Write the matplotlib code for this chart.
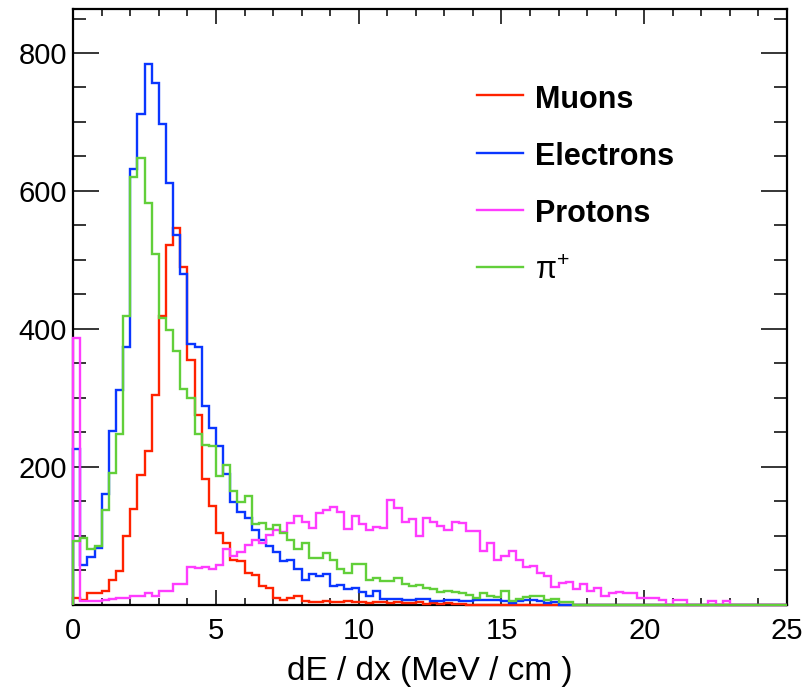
import numpy as np
import matplotlib
matplotlib.use("Agg")
import matplotlib.pyplot as plt
from matplotlib.lines import Line2D
from matplotlib.ticker import MultipleLocator, FixedLocator

plt.rcParams['font.family'] = ['Liberation Sans', 'DejaVu Sans']
plt.rcParams['mathtext.fontset'] = 'custom'
plt.rcParams['mathtext.rm'] = 'Liberation Sans'

# 100 bins of 0.25 MeV/cm from 0 to 25
x_min, x_max, n_bins = 0.0, 25.0, 100

muons = [10, 6, 16, 16, 19, 36, 49, 100, 138, 188,
         223, 304, 418, 521, 546, 489, 354, 275, 182, 143,
         104, 89, 65, 63, 45, 43, 27, 24, 10, 7,
         10, 13, 5, 4, 3, 5, 4, 3, 5, 3,
         3, 2, 4, 3, 2, 3, 2, 2, 3, 1,
         2, 1, 2, 1, 1] + [0] * 45

electrons = [225, 58, 69, 82, 160, 251, 311, 374, 632, 712,
             784, 757, 697, 612, 536, 480, 378, 373, 288, 256,
             230, 190, 149, 134, 125, 108, 93, 85, 76, 63,
             64, 52, 35, 44, 42, 44, 27, 28, 23, 24,
             18, 13, 19, 8, 8, 8, 7, 7, 8, 8,
             5, 5, 7, 7, 5, 5, 6, 6, 6, 6,
             5, 2, 5, 6, 6, 5, 2, 4, 0, 0] + [0] * 30

protons = [387, 5, 5, 5, 6, 8, 10, 10, 12, 12,
           16, 12, 19, 19, 30, 30, 55, 53, 55, 52,
           58, 80, 71, 76, 87, 93, 89, 101, 108, 105,
           118, 129, 119, 111, 133, 137, 142, 134, 109, 129,
           117, 108, 112, 111, 152, 140, 120, 124, 99, 125,
           120, 114, 108, 120, 118, 106, 106, 77, 89, 64,
           71, 78, 65, 54, 56, 45, 42, 26, 31, 33,
           23, 30, 20, 24, 13, 16, 18, 17, 16, 10,
           10, 10, 6, 0, 6, 6, 0, 0, 0, 5,
           0, 5, 0, 0, 0, 0, 0, 0, 0, 0]

pions = [92, 96, 80, 85, 137, 191, 247, 419, 620, 648,
         583, 509, 415, 398, 368, 313, 299, 248, 232, 230,
         186, 202, 165, 149, 157, 117, 118, 110, 116, 104,
         93, 80, 89, 67, 67, 75, 65, 52, 45, 59,
         59, 35, 38, 34, 34, 39, 30, 27, 28, 24,
         22, 18, 19, 18, 16, 14, 10, 16, 13, 11,
         19, 5, 8, 11, 12, 13, 6, 8, 4, 3] + [0] * 30

series = [muons, electrons, protons, pions]
series_labels = ["Muons", "Electrons", "Protons", r"$\mathrm{\pi}^{+}$"]
series_colors = ["#ff2200", "#0a36ff", "#ff3cff", "#62cf3a"]
series_bold = [True, True, True, False]

x_label = "dE / dx (MeV / cm )"
y_ticks = [200, 400, 600, 800]
y_max = 863.4

W, H = 807, 697
fig = plt.figure(figsize=(W / 100, H / 100), dpi=100)
L, R, T, B = 73.2, 787.0, 9.3, 604.5
ax = fig.add_axes([L / W, 1 - B / H, (R - L) / W, (B - T) / H])

edges = np.linspace(x_min, x_max, n_bins + 1)
for vals, col in zip(series, series_colors):
    ax.stairs(vals, edges, color=col, lw=1.7, baseline=0,
              zorder=3, clip_on=False)

ax.set_xlim(x_min, x_max)
ax.set_ylim(0, y_max)

ax.xaxis.set_major_locator(MultipleLocator(5))
ax.xaxis.set_minor_locator(MultipleLocator(1))
ax.yaxis.set_major_locator(FixedLocator(y_ticks))
ax.yaxis.set_minor_locator(MultipleLocator(50))

ax.tick_params(axis='both', which='both', direction='in',
               top=True, right=True, width=1.1, color='black')
ax.tick_params(axis='x', which='major', length=10.5, pad=9, labelsize=21)
ax.tick_params(axis='x', which='minor', length=5)
ax.tick_params(axis='y', which='major', length=18.5, pad=4.5, labelsize=21)
ax.tick_params(axis='y', which='minor', length=9.5)

for sp in ax.spines.values():
    sp.set_linewidth(1.6)

fig.text(430 / W, 1 - 680 / H, x_label, fontsize=24,
         ha='center', va='baseline')

# legend
line_x0, line_x1, text_x = 477, 523, 535
line_ys = [95, 152.7, 210, 266.7]
base_ys = [107.7, 165, 221.7, 279]
for lab, col, bold, ly, by in zip(series_labels, series_colors, series_bold,
                                  line_ys, base_ys):
    fig.add_artist(Line2D([line_x0 / W, line_x1 / W], [1 - ly / H, 1 - ly / H],
                          color=col, lw=1.7, transform=fig.transFigure))
    fig.text(text_x / W, 1 - by / H, lab, fontsize=22,
             fontweight='bold' if bold else 'normal', va='baseline', ha='left')

fig.savefig("out.png", dpi=100)
